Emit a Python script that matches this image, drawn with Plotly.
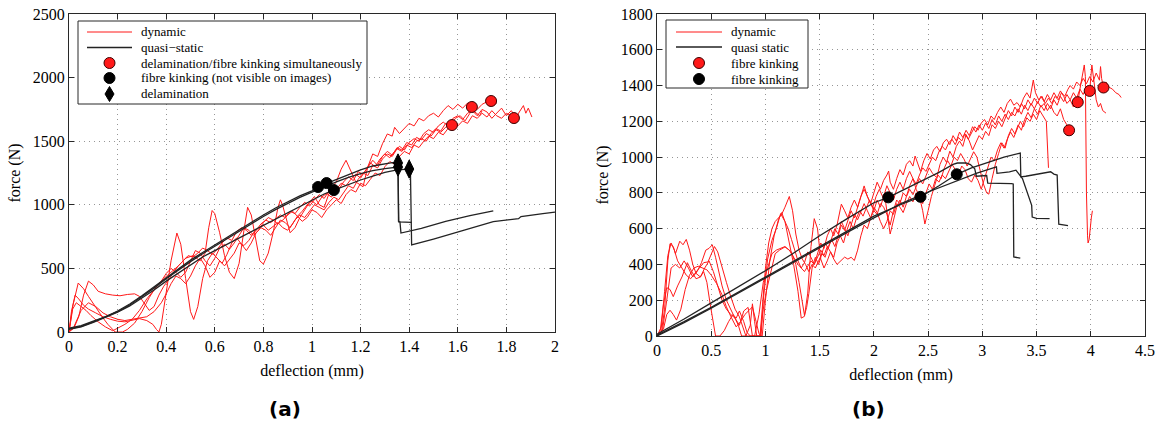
import plotly.graph_objects as go

# ---------------- panel (a): force vs deflection ----------------
dyn_a1 = [(0,0),(0.02,30),(0.04,120),(0.06,290),(0.08,400),(0.10,370),(0.12,320),(0.15,300),(0.18,290),(0.21,285),(0.24,295),(0.27,300),(0.29,280),(0.31,220),(0.33,170),(0.35,200),(0.37,290),(0.39,360),(0.41,410),(0.43,470),(0.45,520),(0.47,560),(0.49,600),(0.51,590),(0.53,620),(0.55,660),(0.57,640),(0.59,610),(0.61,650),(0.63,700),(0.65,740),(0.67,720),(0.69,790),(0.71,820),(0.73,800),(0.75,760),(0.77,800),(0.79,850),(0.81,880),(0.83,860),(0.85,890),(0.87,920),(0.89,900),(0.91,950),(0.93,930),(0.95,980),(0.97,1020),(0.99,990),(1.01,1040),(1.03,1080),(1.05,1050),(1.07,1110),(1.09,1150),(1.11,1120),(1.13,1180),(1.15,1220),(1.17,1190),(1.19,1260),(1.21,1240),(1.23,1300),(1.25,1350),(1.27,1310),(1.29,1380),(1.31,1420),(1.33,1390),(1.35,1450),(1.37,1430),(1.39,1490),(1.41,1470),(1.43,1530),(1.45,1510),(1.47,1560),(1.49,1540),(1.51,1590),(1.53,1570),(1.55,1610),(1.576,1627),(1.59,1600),(1.60,1640)]
dyn_a2 = [(0,0),(0.01,160),(0.025,290),(0.04,260),(0.06,210),(0.08,180),(0.11,150),(0.14,120),(0.17,100),(0.2,85),(0.23,80),(0.26,95),(0.29,105),(0.32,90),(0.345,60),(0.36,20),(0.37,0),(0.38,60),(0.40,300),(0.42,560),(0.444,778),(0.46,690),(0.48,420),(0.50,160),(0.513,99),(0.53,200),(0.55,420),(0.57,560),(0.59,620),(0.61,580),(0.63,540),(0.65,610),(0.67,700),(0.69,740),(0.71,690),(0.73,640),(0.75,700),(0.77,780),(0.79,820),(0.81,800),(0.83,760),(0.85,820),(0.87,880),(0.89,860),(0.91,820),(0.93,880),(0.95,920),(0.97,900),(0.99,950),(1.01,1000),(1.03,980),(1.05,960),(1.07,1020),(1.09,1060),(1.11,1040),(1.13,1100),(1.15,1150),(1.17,1130),(1.19,1200),(1.21,1250),(1.23,1230),(1.25,1310),(1.27,1290),(1.29,1360),(1.31,1400),(1.33,1380),(1.35,1440),(1.37,1420),(1.39,1470),(1.41,1450),(1.43,1500),(1.45,1520),(1.47,1500),(1.49,1560),(1.51,1600),(1.53,1580),(1.55,1640),(1.57,1620),(1.59,1680),(1.61,1700),(1.63,1660),(1.65,1720),(1.658,1769),(1.67,1730),(1.69,1700),(1.70,1740)]
dyn_a3 = [(0,0),(0.015,200),(0.038,385),(0.06,340),(0.08,280),(0.10,220),(0.12,170),(0.14,110),(0.16,60),(0.18,20),(0.19,0),(0.22,0),(0.24,20),(0.27,70),(0.30,160),(0.33,270),(0.36,360),(0.39,420),(0.42,470),(0.45,520),(0.48,580),(0.51,600),(0.54,560),(0.56,620),(0.575,820),(0.589,955),(0.60,930),(0.62,780),(0.64,600),(0.66,470),(0.68,420),(0.70,540),(0.72,800),(0.735,980),(0.75,920),(0.77,720),(0.785,560),(0.80,534),(0.82,620),(0.84,780),(0.86,980),(0.87,1039),(0.88,990),(0.90,850),(0.91,780),(0.93,820),(0.95,900),(0.97,960),(0.99,1020),(1.01,1065),(1.03,1000),(1.05,980),(1.075,1117),(1.10,1180),(1.12,1280),(1.14,1350),(1.16,1260),(1.18,1180),(1.21,1142),(1.23,1300),(1.25,1400),(1.27,1380),(1.29,1480),(1.31,1557),(1.33,1540),(1.34,1609),(1.36,1560),(1.38,1600),(1.40,1640),(1.42,1620),(1.44,1680),(1.46,1660),(1.48,1700),(1.50,1720),(1.52,1690),(1.54,1740),(1.56,1780),(1.58,1750),(1.60,1790),(1.62,1760),(1.64,1800),(1.66,1780),(1.68,1750),(1.70,1790),(1.72,1810),(1.737,1816),(1.75,1790),(1.76,1800)]
dyn_a4 = [(0,0),(0.02,40),(0.05,170),(0.08,230),(0.11,200),(0.14,150),(0.17,120),(0.2,100),(0.23,90),(0.26,100),(0.29,110),(0.32,120),(0.35,160),(0.38,230),(0.40,300),(0.42,380),(0.44,440),(0.46,420),(0.48,380),(0.50,440),(0.52,520),(0.54,580),(0.56,520),(0.58,430),(0.60,470),(0.62,560),(0.64,520),(0.66,570),(0.68,620),(0.70,700),(0.72,680),(0.74,720),(0.76,780),(0.78,820),(0.80,840),(0.82,800),(0.84,830),(0.86,860),(0.88,820),(0.90,800),(0.92,850),(0.94,910),(0.96,870),(0.98,900),(1.00,960),(1.02,940),(1.04,900),(1.06,960),(1.08,1000),(1.10,1040),(1.12,1010),(1.14,1080),(1.16,1120),(1.18,1100),(1.20,1170),(1.22,1150),(1.24,1200),(1.26,1250),(1.28,1230),(1.30,1300),(1.32,1340),(1.34,1320),(1.36,1380),(1.38,1420),(1.40,1400),(1.42,1470),(1.44,1450),(1.46,1500),(1.48,1540),(1.50,1520),(1.52,1570),(1.54,1550),(1.56,1600),(1.58,1640),(1.60,1620),(1.62,1660),(1.64,1640),(1.66,1700),(1.68,1680),(1.70,1720),(1.72,1690),(1.74,1740),(1.76,1700),(1.78,1680),(1.80,1720),(1.82,1700),(1.831,1682),(1.85,1710)]
dyn_a5 = [(0,0),(0.005,60),(0.015,180),(0.03,230),(0.05,200),(0.07,170),(0.09,130),(0.12,80),(0.15,40),(0.18,10),(0.20,30),(0.23,60),(0.26,100),(0.29,170),(0.32,260),(0.35,330),(0.38,400),(0.40,460),(0.42,500),(0.44,470),(0.46,430),(0.48,470),(0.50,560),(0.52,640),(0.54,620),(0.56,560),(0.58,520),(0.60,580),(0.62,660),(0.64,690),(0.66,650),(0.68,700),(0.70,760),(0.72,820),(0.74,800),(0.76,760),(0.78,800),(0.80,860),(0.82,900),(0.84,880),(0.86,850),(0.88,880),(0.90,920),(0.92,950),(0.94,910),(0.96,950),(0.98,1000),(1.00,1030),(1.02,1000),(1.04,1060),(1.06,1090),(1.08,1060),(1.10,1120),(1.12,1170),(1.14,1150),(1.16,1200),(1.18,1240),(1.20,1210),(1.22,1270),(1.24,1330),(1.26,1300),(1.28,1360),(1.30,1400),(1.32,1370),(1.34,1420),(1.36,1460),(1.38,1430),(1.40,1490),(1.42,1520),(1.44,1500),(1.46,1560),(1.48,1590),(1.50,1570),(1.52,1620),(1.54,1650),(1.56,1620),(1.58,1680),(1.60,1700),(1.62,1670),(1.64,1720),(1.66,1740),(1.68,1700),(1.70,1750),(1.72,1730),(1.74,1680),(1.76,1720),(1.78,1760),(1.80,1700),(1.82,1740),(1.84,1690),(1.86,1750),(1.87,1780),(1.88,1720),(1.89,1760),(1.905,1690)]

qs_a1 = [(0,30),(0.05,50),(0.1,85),(0.15,120),(0.2,165),(0.25,220),(0.3,285),(0.35,355),(0.4,430),(0.45,500),(0.5,565),(0.55,625),(0.6,685),(0.65,745),(0.7,805),(0.75,865),(0.8,920),(0.85,975),(0.9,1025),(0.95,1070),(1.0,1110),(1.025,1140),(1.05,1160),(1.1,1200),(1.15,1240),(1.2,1275),(1.25,1305),(1.3,1325),(1.33,1332),(1.354,1329),(1.356,870),(1.362,865),(1.366,778),(1.45,815),(1.55,870),(1.65,915),(1.746,953)]
qs_a2 = [(0,20),(0.05,40),(0.1,75),(0.15,112),(0.2,155),(0.25,205),(0.3,265),(0.35,330),(0.4,400),(0.45,465),(0.5,530),(0.55,590),(0.6,640),(0.65,690),(0.7,740),(0.75,790),(0.8,840),(0.85,890),(0.9,940),(0.95,990),(1.0,1040),(1.05,1085),(1.09,1116),(1.15,1160),(1.2,1195),(1.25,1225),(1.3,1255),(1.35,1275),(1.40,1281),(1.405,1270),(1.41,684),(1.5,730),(1.6,785),(1.7,840),(1.746,867),(1.85,891),(1.86,908),(1.95,930),(2.0,943)]
qs_a3 = [(0,25),(0.05,45),(0.1,80),(0.15,118),(0.2,160),(0.25,212),(0.3,275),(0.35,345),(0.4,418),(0.45,488),(0.5,553),(0.55,615),(0.6,675),(0.65,735),(0.7,795),(0.75,853),(0.8,908),(0.85,962),(0.9,1012),(0.95,1058),(1.0,1100),(1.06,1150),(1.1,1180),(1.15,1215),(1.2,1245),(1.25,1268),(1.3,1285),(1.354,1297),(1.357,865),(1.41,862)]

kink_dyn_a = [(1.576,1627),(1.658,1769),(1.737,1816),(1.831,1682)]
kink_qs_a = [(1.025,1140),(1.06,1171),(1.09,1116)]
delam_qs_a = [(1.354,1329),(1.354,1297),(1.40,1281)]

legend_a = ["dynamic", "quasi\u2212static", "delamination/fibre kinking simultaneously",
            "fibre kinking (not visible on images)", "delamination"]

# ---------------- panel (b): force vs deflection ----------------
dyn_b1 = [(0,0),(0.04,20),(0.07,150),(0.10,420),(0.12,516),(0.15,500),(0.17,460),(0.19,500),(0.21,530),(0.24,510),(0.27,540),(0.30,480),(0.33,400),(0.36,350),(0.40,330),(0.43,360),(0.46,300),(0.49,180),(0.52,60),(0.54,0),(0.58,0),(0.62,30),(0.66,80),(0.70,120),(0.73,100),(0.76,140),(0.80,80),(0.83,20),(0.86,0),(0.95,0),(0.97,150),(1.0,380),(1.03,520),(1.06,600),(1.09,640),(1.12,660),(1.15,680),(1.18,720),(1.22,780),(1.25,700),(1.28,570),(1.31,480),(1.34,430),(1.37,400),(1.40,360),(1.43,400),(1.46,380),(1.49,420),(1.52,460),(1.55,440),(1.58,500),(1.61,540),(1.64,500),(1.67,560),(1.70,620),(1.73,590),(1.76,650),(1.79,700),(1.82,660),(1.85,720),(1.88,780),(1.91,839),(1.94,780),(1.97,740),(2.00,800),(2.03,860),(2.06,820),(2.09,870),(2.12,900),(2.136,922),(2.15,860),(2.18,820),(2.21,880),(2.24,930),(2.27,900),(2.30,960),(2.33,980),(2.36,950),(2.38,1006),(2.40,970),(2.43,920),(2.46,980),(2.49,1020),(2.52,990),(2.55,1040),(2.58,1060),(2.61,1030),(2.64,1080),(2.67,1100),(2.70,1070),(2.73,1120),(2.76,1090),(2.79,1140),(2.82,1110),(2.85,1150),(2.88,1120),(2.91,1170),(2.94,1140),(2.97,1180),(3.00,1150),(3.03,1190),(3.06,1160),(3.09,1210),(3.12,1180),(3.15,1230),(3.18,1200),(3.21,1240),(3.24,1210),(3.27,1250),(3.30,1230),(3.33,1270),(3.36,1240),(3.39,1290),(3.42,1260),(3.45,1300),(3.48,1270),(3.51,1310),(3.54,1280),(3.57,1300),(3.60,1260),(3.63,1290),(3.66,1250),(3.69,1230),(3.72,1270),(3.75,1210),(3.78,1180),(3.80,1150)]
dyn_b2 = [(0,0),(0.05,30),(0.09,200),(0.13,380),(0.17,400),(0.21,380),(0.25,420),(0.29,380),(0.33,330),(0.37,360),(0.41,410),(0.45,480),(0.48,490),(0.51,510),(0.54,440),(0.57,360),(0.60,280),(0.64,200),(0.68,150),(0.72,100),(0.75,60),(0.78,0),(0.82,0),(0.86,60),(0.88,180),(0.90,80),(0.92,0),(0.97,0),(1.0,200),(1.04,420),(1.08,560),(1.12,650),(1.15,690),(1.18,640),(1.22,520),(1.26,400),(1.30,250),(1.33,100),(1.36,110),(1.39,240),(1.42,500),(1.45,656),(1.48,600),(1.51,430),(1.54,380),(1.57,420),(1.60,470),(1.63,440),(1.66,520),(1.69,560),(1.72,520),(1.75,590),(1.78,640),(1.81,600),(1.84,660),(1.87,700),(1.90,670),(1.93,720),(1.96,760),(1.99,720),(2.02,780),(2.05,820),(2.08,780),(2.11,740),(2.15,570),(2.18,640),(2.21,720),(2.24,760),(2.27,720),(2.30,780),(2.33,820),(2.36,790),(2.39,840),(2.42,880),(2.45,850),(2.48,900),(2.51,940),(2.54,910),(2.58,885),(2.61,960),(2.64,1000),(2.67,970),(2.70,1033),(2.73,1000),(2.76,1060),(2.79,1090),(2.82,1060),(2.85,1126),(2.88,1090),(2.91,1040),(2.94,1080),(2.97,1120),(3.00,1100),(3.03,1144),(3.06,1120),(3.09,1181),(3.12,1160),(3.15,1200),(3.18,1170),(3.21,1220),(3.24,1260),(3.27,1230),(3.30,1280),(3.33,1250),(3.36,1300),(3.39,1270),(3.42,1320),(3.45,1290),(3.48,1330),(3.51,1300),(3.54,1340),(3.57,1310),(3.60,1350),(3.63,1320),(3.66,1360),(3.69,1330),(3.72,1370),(3.75,1340),(3.78,1300),(3.81,1320),(3.84,1280),(3.86,1300),(3.88,1307),(3.90,1380),(3.92,1460),(3.94,1515),(3.95,1450),(3.955,1100),(3.96,800),(3.97,560),(3.975,520),(3.985,540),(3.995,620),(4.005,660),(4.015,700)]
dyn_b3 = [(0,0),(0.06,40),(0.09,120),(0.12,144),(0.15,120),(0.18,89),(0.22,150),(0.26,260),(0.30,340),(0.34,380),(0.38,390),(0.42,380),(0.46,370),(0.50,340),(0.55,293),(0.60,230),(0.64,163),(0.68,110),(0.73,51),(0.77,80),(0.81,120),(0.85,144),(0.88,163),(0.91,90),(0.94,14),(0.96,0),(0.98,200),(1.02,430),(1.06,535),(1.10,600),(1.14,684),(1.18,640),(1.21,600),(1.24,540),(1.27,480),(1.30,420),(1.33,380),(1.36,410),(1.39,470),(1.42,440),(1.45,400),(1.48,460),(1.51,520),(1.54,490),(1.57,560),(1.60,600),(1.63,560),(1.66,620),(1.70,737),(1.73,700),(1.76,660),(1.79,720),(1.82,760),(1.85,720),(1.88,780),(1.91,820),(1.94,780),(1.97,740),(2.00,700),(2.03,760),(2.06,720),(2.09,780),(2.12,840),(2.15,800),(2.18,760),(2.21,820),(2.24,860),(2.27,820),(2.30,880),(2.33,920),(2.36,880),(2.39,820),(2.42,780),(2.45,700),(2.47,626),(2.50,700),(2.53,780),(2.56,840),(2.59,900),(2.62,880),(2.65,940),(2.68,980),(2.71,950),(2.74,1000),(2.77,980),(2.80,1020),(2.83,990),(2.86,950),(2.89,990),(2.92,1030),(2.95,1000),(2.98,930),(3.01,850),(3.04,800),(3.06,793),(3.09,880),(3.12,960),(3.15,1020),(3.18,1080),(3.21,1050),(3.24,1120),(3.27,1160),(3.30,1130),(3.33,1180),(3.36,1150),(3.39,1210),(3.42,1250),(3.45,1220),(3.48,1270),(3.51,1240),(3.54,1290),(3.57,1260),(3.60,1300),(3.63,1270),(3.66,1320),(3.69,1290),(3.72,1340),(3.75,1310),(3.78,1350),(3.81,1320),(3.84,1360),(3.87,1330),(3.90,1380),(3.93,1350),(3.96,1390),(3.99,1370),(4.01,1515),(4.03,1420),(4.05,1320),(4.07,1280),(4.09,1300),(4.11,1260),(4.14,1246)]
dyn_b4 = [(0,0),(0.04,50),(0.07,250),(0.10,450),(0.13,520),(0.16,480),(0.19,420),(0.23,380),(0.27,340),(0.31,320),(0.35,350),(0.39,380),(0.43,410),(0.47,414),(0.50,460),(0.53,500),(0.56,470),(0.60,380),(0.64,300),(0.68,220),(0.72,150),(0.76,107),(0.80,40),(0.82,0),(0.90,0),(0.94,120),(0.98,300),(1.02,380),(1.06,460),(1.10,480),(1.14,490),(1.18,500),(1.22,480),(1.26,440),(1.30,400),(1.33,380),(1.36,360),(1.39,390),(1.42,420),(1.45,400),(1.48,440),(1.51,480),(1.54,450),(1.57,500),(1.60,470),(1.63,430),(1.66,400),(1.69,420),(1.73,441),(1.76,430),(1.79,440),(1.82,422),(1.85,480),(1.88,560),(1.91,620),(1.94,600),(1.97,660),(2.00,700),(2.03,680),(2.06,740),(2.09,720),(2.12,680),(2.15,620),(2.18,700),(2.21,760),(2.24,740),(2.27,800),(2.30,780),(2.33,840),(2.36,880),(2.39,850),(2.42,900),(2.45,940),(2.48,920),(2.51,960),(2.54,1000),(2.57,980),(2.60,1030),(2.63,1060),(2.66,1040),(2.69,1080),(2.72,1100),(2.75,1070),(2.78,1110),(2.81,1090),(2.84,1130),(2.87,1100),(2.90,1140),(2.93,1170),(2.96,1150),(2.99,1190),(3.02,1210),(3.05,1180),(3.08,1230),(3.11,1210),(3.14,1250),(3.17,1280),(3.20,1250),(3.23,1300),(3.26,1324),(3.29,1290),(3.32,1305),(3.35,1280),(3.38,1330),(3.41,1360),(3.44,1330),(3.47,1431),(3.49,1360),(3.52,1320),(3.55,1340),(3.58,1300),(3.61,1330),(3.64,1300),(3.67,1340),(3.70,1320),(3.73,1360),(3.76,1340),(3.79,1380),(3.81,1400),(3.84,1380),(3.87,1420),(3.90,1400),(3.93,1440),(3.96,1410),(3.99,1450),(4.02,1420),(4.05,1470),(4.08,1430),(4.09,1506),(4.10,1440),(4.117,1389),(4.14,1420),(4.17,1390),(4.20,1380),(4.23,1360),(4.26,1350),(4.28,1333)]
dyn_b5 = [(0,0),(0.03,30),(0.06,180),(0.09,270),(0.12,260),(0.15,220),(0.19,280),(0.23,330),(0.28,410),(0.32,360),(0.36,320),(0.40,330),(0.44,380),(0.48,420),(0.52,360),(0.56,280),(0.60,200),(0.64,150),(0.68,120),(0.72,100),(0.76,60),(0.80,140),(0.84,160),(0.86,80),(0.88,0),(0.95,0),(0.98,150),(1.01,256),(1.05,360),(1.09,460),(1.13,480),(1.18,498),(1.24,470),(1.28,400),(1.31,300),(1.34,180),(1.36,116),(1.38,160),(1.40,237),(1.43,380),(1.46,440),(1.49,400),(1.52,460),(1.55,520),(1.58,490),(1.61,550),(1.64,600),(1.67,570),(1.70,640),(1.73,600),(1.76,560),(1.79,620),(1.82,680),(1.85,650),(1.88,700),(1.91,740),(1.94,700),(1.97,660),(2.00,720),(2.03,690),(2.06,640),(2.09,600),(2.12,640),(2.15,700),(2.18,680),(2.21,740),(2.24,720),(2.27,690),(2.30,740),(2.33,780),(2.36,750),(2.39,800),(2.42,780),(2.45,740),(2.48,800),(2.51,850),(2.54,820),(2.57,880),(2.60,860),(2.63,900),(2.66,880),(2.69,920),(2.72,960),(2.75,930),(2.78,900),(2.81,950),(2.84,930),(2.87,880),(2.90,860),(2.93,900),(2.96,870),(2.99,820),(3.02,880),(3.05,940),(3.08,1000),(3.11,980),(3.14,1040),(3.17,1080),(3.20,1050),(3.23,1100),(3.26,1140),(3.29,1110),(3.32,1160),(3.35,1200),(3.38,1170),(3.41,1220),(3.44,1200),(3.47,1240),(3.50,1210),(3.53,1260),(3.56,1230),(3.59,1200),(3.61,940)]

qs_b1 = [(0,10),(0.25,95),(0.5,185),(0.75,275),(1.0,365),(1.25,460),(1.5,560),(1.75,655),(2.0,745),(2.133,775),(2.25,810),(2.42,857),(2.6,915),(2.73,959),(2.77,967),(2.85,968),(2.89,958),(2.93,935),(2.945,893),(3.04,897),(3.05,855),(3.27,852),(3.285,850),(3.29,442),(3.35,435)]
qs_b2 = [(0,5),(0.25,80),(0.5,160),(0.75,245),(1.0,330),(1.25,415),(1.5,500),(1.75,585),(2.0,670),(2.25,735),(2.43,778),(2.6,840),(2.764,904),(2.9,940),(3.05,970),(3.2,1000),(3.35,1023),(3.355,890),(3.4,893),(3.5,903),(3.63,918),(3.66,905),(3.69,900),(3.705,625),(3.79,617)]
qs_b3 = [(0,0),(0.25,75),(0.5,155),(0.75,240),(1.0,325),(1.25,410),(1.5,495),(1.75,578),(2.0,660),(2.25,740),(2.5,805),(2.75,865),(2.95,910),(3.13,946),(3.135,909),(3.25,918),(3.31,927),(3.37,880),(3.40,830),(3.43,777),(3.455,730),(3.46,665),(3.5,658),(3.62,656)]

kink_dyn_b = [(3.80,1150),(3.88,1307),(3.99,1370),(4.117,1389)]
kink_qs_b = [(2.133,775),(2.43,778),(2.764,904)]

legend_b = ["dynamic", "quasi static", "fibre kinking", "fibre kinking"]

RED = "rgb(255,25,25)"
DARK = "rgb(35,35,35)"
EDGE = "rgb(40,40,40)"
SERIF = "Liberation Serif"
AX_FONT = dict(family=SERIF, size=16, color="black")
W, H = 1163, 426

fig = go.Figure()


def add_curves(curves, color, width, name, xa, ya):
    for c in curves:
        fig.add_trace(go.Scatter(
            x=[p[0] for p in c], y=[p[1] for p in c], mode="lines",
            line=dict(color=color, width=width), name=name,
            showlegend=False, xaxis=xa, yaxis=ya, hoverinfo="skip"))


def add_points(pts, symbol, size, color, name, xa, ya):
    fig.add_trace(go.Scatter(
        x=[p[0] for p in pts], y=[p[1] for p in pts], mode="markers",
        marker=dict(symbol=symbol, size=size, color=color,
                    line=dict(color="rgb(60,0,0)" if color == RED else "black", width=1)),
        name=name, showlegend=False, xaxis=xa, yaxis=ya, cliponaxis=False))


add_curves([dyn_a1, dyn_a2, dyn_a3, dyn_a4, dyn_a5], RED, 1, legend_a[0], "x", "y")
add_curves([qs_a1, qs_a2, qs_a3], DARK, 1.3, legend_a[1], "x", "y")
add_points(kink_dyn_a, "circle", 11, RED, legend_a[2], "x", "y")
add_points(kink_qs_a, "circle", 11, "black", legend_a[3], "x", "y")
add_points(delam_qs_a, "diamond-tall", 13, "black", legend_a[4], "x", "y")

add_curves([dyn_b1, dyn_b2, dyn_b3, dyn_b4, dyn_b5], RED, 1, legend_b[0], "x2", "y2")
add_curves([qs_b1, qs_b2, qs_b3], DARK, 1.3, legend_b[1], "x2", "y2")
add_points(kink_dyn_b, "circle", 11, RED, legend_b[2], "x2", "y2")
add_points(kink_qs_b, "circle", 11, "black", legend_b[3], "x2", "y2")


# ---- legend boxes, laid out in page pixels ----
def px(x):
    return x / W


def py(y):
    return 1 - y / H


shapes = []
annotations = []


def legend(x0, y0, x1, y1, line_x0, line_x1, text_x, rows, kinds, labels):
    shapes.append(dict(type="rect", xref="paper", yref="paper",
                       x0=px(x0), x1=px(x1), y0=py(y0), y1=py(y1),
                       line=dict(color=EDGE, width=1), fillcolor="white", layer="above"))
    mid = (line_x0 + line_x1) / 2
    for (kind, color), ry, label in zip(kinds, rows, labels):
        if kind == "line":
            shapes.append(dict(type="line", xref="paper", yref="paper",
                               x0=px(line_x0), x1=px(line_x1), y0=py(ry), y1=py(ry),
                               line=dict(color=color, width=1.3 if color == DARK else 1),
                               layer="above"))
        elif kind == "circle":
            r = 5.5
            shapes.append(dict(type="circle", xref="paper", yref="paper",
                               x0=px(mid - r), x1=px(mid + r), y0=py(ry + r), y1=py(ry - r),
                               fillcolor=color, layer="above",
                               line=dict(color="rgb(60,0,0)" if color == RED else "black", width=1)))
        elif kind == "diamond":
            w, h = 4.5, 7.5
            path = "M {} {} L {} {} L {} {} L {} {} Z".format(
                px(mid), py(ry - h), px(mid + w), py(ry), px(mid), py(ry + h), px(mid - w), py(ry))
            shapes.append(dict(type="path", xref="paper", yref="paper", path=path,
                               fillcolor=color, line=dict(color=color, width=1), layer="above"))
        annotations.append(dict(text=label, x=px(text_x), y=py(ry), xref="paper", yref="paper",
                                xanchor="left", yanchor="middle", showarrow=False,
                                font=dict(family=SERIF, size=13, color="black")))


legend(78, 21, 367, 104, 87, 132, 139, [32, 47.5, 63, 78, 94],
       [("line", RED), ("line", DARK), ("circle", RED), ("circle", "black"), ("diamond", "black")],
       legend_a)
legend(666, 20, 808, 88, 676, 722, 729, [32, 47, 63, 79],
       [("line", RED), ("line", DARK), ("circle", RED), ("circle", "black")],
       legend_b)

annotations += [
    dict(text="<b>(a)</b>", x=px(285), y=py(409), xref="paper", yref="paper",
         xanchor="center", yanchor="middle", showarrow=False,
         font=dict(family="DejaVu Sans", size=20, color="black")),
    dict(text="<b>(b)</b>", x=px(868), y=py(409), xref="paper", yref="paper",
         xanchor="center", yanchor="middle", showarrow=False,
         font=dict(family="DejaVu Sans", size=20, color="black")),
]

axis_common = dict(
    showline=True, mirror="ticks", linecolor=EDGE, linewidth=1,
    ticks="inside", ticklen=5, tickcolor=EDGE,
    showgrid=True, gridcolor="rgb(150,150,150)", gridwidth=1, griddash="1px,4px",
    zeroline=False, tickfont=AX_FONT, automargin=False,
)

fig.update_layout(
    width=W, height=H, margin=dict(l=0, r=0, t=0, b=0),
    paper_bgcolor="white", plot_bgcolor="white", showlegend=False,
    xaxis=dict(axis_common, domain=[px(69), px(555)], range=[0, 2], dtick=0.2,
               title=dict(text="deflection (mm)", font=AX_FONT, standoff=10), anchor="y"),
    yaxis=dict(axis_common, domain=[py(332), py(14)], range=[0, 2500], dtick=500,
               title=dict(text="force (N)", font=AX_FONT, standoff=8), anchor="x"),
    xaxis2=dict(axis_common, domain=[px(657), px(1145)], range=[0, 4.5], dtick=0.5,
                title=dict(text="deflection (mm)", font=AX_FONT, standoff=10), anchor="y2"),
    yaxis2=dict(axis_common, domain=[py(336), py(14)], range=[0, 1800], dtick=200,
                title=dict(text="force (N)", font=AX_FONT, standoff=8), anchor="x2"),
    shapes=shapes,
    annotations=annotations,
)

fig.write_html("out.html")
